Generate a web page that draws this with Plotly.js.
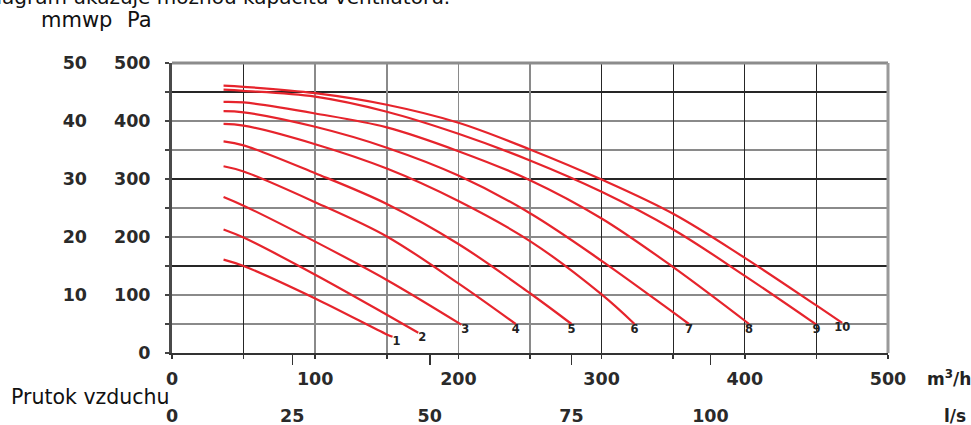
<!DOCTYPE html>
<html>
<head>
<meta charset="utf-8">
<script src="https://cdn.plot.ly/plotly-3.0.1.min.js"></script>
<style>html,body{margin:0;padding:0;background:#fff}#chart{width:971px;height:425px}</style>
</head>
<body>
<div id="chart"></div>
<script>
// Air flow (m3/h) and pressure (Pa) readings for the ten fan speed curves
const q1 = [36, 50, 100, 150, 154];
const p1 = [161, 150, 94, 32, 28];
const q2 = [36, 50, 100, 150, 172];
const p2 = [213, 199, 135, 66, 35];
const q3 = [36, 50, 100, 150, 202];
const p3 = [269, 254, 192, 126, 49];
const q4 = [36, 50, 100, 150, 200, 240];
const p4 = [322, 313, 260, 201, 120, 50];
const q5 = [36, 50, 100, 150, 200, 250, 279];
const p5 = [365, 358, 310, 257, 188, 103, 50];
const q6 = [36, 50, 100, 150, 200, 250, 300, 323];
const p6 = [395, 392, 360, 318, 262, 193, 101, 50];
const q7 = [36, 50, 100, 150, 200, 250, 300, 345, 361];
const p7 = [417, 415, 390, 354, 306, 241, 159, 79, 50];
const q8 = [36, 50, 100, 150, 200, 250, 300, 350, 403];
const p8 = [433, 432, 413, 389, 348, 298, 232, 148, 50];
const q9 = [36, 50, 100, 150, 200, 250, 300, 350, 400, 450];
const p9 = [454, 452, 442, 416, 378, 332, 278, 213, 133, 49];
const q10 = [36, 50, 100, 150, 200, 250, 300, 350, 400, 450, 468];
const p10 = [461, 459, 448, 428, 397, 351, 299, 240, 164, 82, 52];
const curveNames = ['1','2','3','4','5','6','7','8','9','10'];

// Axis tick labels
const m3hTicks = [0, 100, 200, 300, 400, 500];
const lsTickPos = [0, 84, 180, 279, 376];   // m3/h position of the l/s labels as printed
const lsTickText = ['0', '25', '50', '75', '100'];
const mmwpTicks = [10, 20, 30, 40, 50];
const paTicks = [0, 100, 200, 300, 400, 500];

const qs = [q1,q2,q3,q4,q5,q6,q7,q8,q9,q10];
const ps = [p1,p2,p3,p4,p5,p6,p7,p8,p9,p10];

const RED = '#e6242c';
const FONT = 'DejaVu Sans, Arial, sans-serif';
const traces = [];
qs.forEach((q, i) => {
  traces.push({
    type: 'scatter', mode: 'lines', x: q, y: ps[i], name: curveNames[i],
    line: {color: RED, width: 2.2, shape: 'spline', smoothing: 1},
    hoverinfo: 'x+y+name', showlegend: false
  });
});
// curve numbers at curve ends
traces.push({
  type: 'scatter', mode: 'text',
  x: qs.map(q => q[q.length - 1]),
  y: ps.map(p => p[p.length - 1]),
  text: curveNames,
  textposition: curveNames.map((n, i) => i < 3 ? 'bottom right' : 'bottom center'),
  textfont: {family: FONT, size: 11.5, color: '#222', weight: 'bold'},
  hoverinfo: 'skip', showlegend: false, cliponaxis: false
});
// helper traces for overlay axes
const dummy = (xa, ya) => ({type: 'scatter', mode: 'markers', x: [null], y: [null], xaxis: xa, yaxis: ya, hoverinfo: 'skip', showlegend: false});
traces.push(dummy('x2', 'y'), dummy('x3', 'y'), dummy('x4', 'y'), dummy('x5', 'y'),
            dummy('x', 'y2'), dummy('x', 'y3'), dummy('x', 'y4'));

const tickFont = {family: FONT, size: 17.5, color: '#2a2a2a', weight: 'bold'};
const GRAY = '#8a8a8a', DARK = '#262626';

const layout = {
  width: 971, height: 425,
  margin: {l: 172, r: 83, t: 63, b: 72, pad: 0},
  paper_bgcolor: '#fff', plot_bgcolor: '#fff',
  showlegend: false,
  xaxis: {
    range: [0, 500], tickmode: 'array', tickvals: m3hTicks,
    ticks: 'outside', ticklen: 4, tickwidth: 1.5, tickcolor: '#333',
    showline: true, linecolor: '#333', linewidth: 2,
    showgrid: false, zeroline: false, tickfont: tickFont, ticklabelstandoff: 5,
    minor: {dtick: 50, tick0: 0, ticks: 'outside', ticklen: 4, tickwidth: 1.5, tickcolor: '#333', showgrid: false}
  },
  xaxis2: {
    overlaying: 'x', anchor: 'free', position: 0, side: 'bottom', range: [0, 500],
    tickmode: 'array', tickvals: lsTickPos, ticktext: lsTickText,
    ticks: '', showline: false, showgrid: false, zeroline: false,
    tickfont: tickFont, ticklabelstandoff: 50
  },
  xaxis3: {
    overlaying: 'x', anchor: 'free', position: 0, side: 'bottom', range: [0, 500],
    tickmode: 'array', tickvals: lsTickPos.slice(1),
    ticks: 'outside', ticklen: 11, tickwidth: 1.5, tickcolor: '#333',
    showticklabels: false, showline: false, showgrid: false, zeroline: false
  },
  xaxis4: {
    overlaying: 'x', anchor: 'y', range: [0, 500],
    tickmode: 'array', tickvals: [100, 150, 200, 250],
    ticks: '', showticklabels: false, showline: false, zeroline: false,
    showgrid: true, gridcolor: GRAY, gridwidth: 1.5
  },
  xaxis5: {
    overlaying: 'x', anchor: 'y', range: [0, 500],
    tickmode: 'array', tickvals: [50, 300, 350, 400, 450],
    ticks: '', showticklabels: false, showline: false, zeroline: false,
    showgrid: true, gridcolor: DARK, gridwidth: 1.4
  },
  yaxis: {
    range: [0, 500], tickmode: 'array', tickvals: paTicks,
    ticks: 'outside', ticklen: 4, tickwidth: 1.5, tickcolor: '#444',
    showline: true, linecolor: '#4a4a4a', linewidth: 3,
    showgrid: false, zeroline: false, tickfont: tickFont, ticklabelstandoff: 11,
    minor: {dtick: 50, tick0: 0, ticks: 'outside', ticklen: 4, tickwidth: 1.5, tickcolor: '#444', showgrid: false}
  },
  yaxis2: {
    overlaying: 'y', anchor: 'free', position: 0, side: 'left', range: [0, 50],
    tickmode: 'array', tickvals: mmwpTicks,
    ticks: '', showline: false, showgrid: false, zeroline: false,
    tickfont: tickFont, ticklabelstandoff: 85
  },
  yaxis3: {
    overlaying: 'y', anchor: 'x', range: [0, 500],
    tickmode: 'array', tickvals: [50, 100, 200, 250, 350, 400],
    ticks: '', showticklabels: false, showline: false, zeroline: false,
    showgrid: true, gridcolor: GRAY, gridwidth: 1.5
  },
  yaxis4: {
    overlaying: 'y', anchor: 'x', range: [0, 500],
    tickmode: 'array', tickvals: [150, 300, 450],
    ticks: '', showticklabels: false, showline: false, zeroline: false,
    showgrid: true, gridcolor: DARK, gridwidth: 1.4
  },
  shapes: [
    {type: 'line', xref: 'paper', yref: 'paper', x0: 0, x1: 1, y0: 1, y1: 1, line: {color: '#8c8c8c', width: 3}},
    {type: 'line', xref: 'paper', yref: 'paper', x0: 1, x1: 1, y0: 0, y1: 1, line: {color: '#9a9a9a', width: 3}}
  ],
  annotations: [
    {text: 'Diagram ukazuje možnou kapacitu ventilátoru.', xref: 'paper', yref: 'paper',
     x: -0.2699, y: 1.18, xanchor: 'left', yanchor: 'bottom', showarrow: false,
     font: {family: FONT, size: 20, color: '#111'}},
    {text: 'mmwp', xref: 'paper', yref: 'paper', x: -0.1858, y: 1.149, xanchor: 'left', yanchor: 'middle',
     showarrow: false, font: {family: FONT, size: 21, color: '#111'}},
    {text: 'Pa', xref: 'paper', yref: 'paper', x: -0.0661, y: 1.149, xanchor: 'left', yanchor: 'middle',
     showarrow: false, font: {family: FONT, size: 21, color: '#111'}},
    {text: 'Prutok vzduchu', xref: 'paper', yref: 'paper', x: -0.228, y: -0.152, xanchor: 'left', yanchor: 'middle',
     showarrow: false, font: {family: FONT, size: 20.5, color: '#111'}},
    {text: 'm<sup>3</sup>/h', xref: 'paper', yref: 'paper', x: 1.0513, y: -0.085, xanchor: 'left', yanchor: 'middle',
     showarrow: false, font: {family: FONT, size: 17, color: '#222', weight: 'bold'}},
    {text: 'l/s', xref: 'paper', yref: 'paper', x: 1.0751, y: -0.216, xanchor: 'left', yanchor: 'middle',
     showarrow: false, font: {family: FONT, size: 17, color: '#222', weight: 'bold'}}
  ]
};

Plotly.newPlot('chart', traces, layout, {staticPlot: true, displayModeBar: false});
</script>
</body>
</html>
